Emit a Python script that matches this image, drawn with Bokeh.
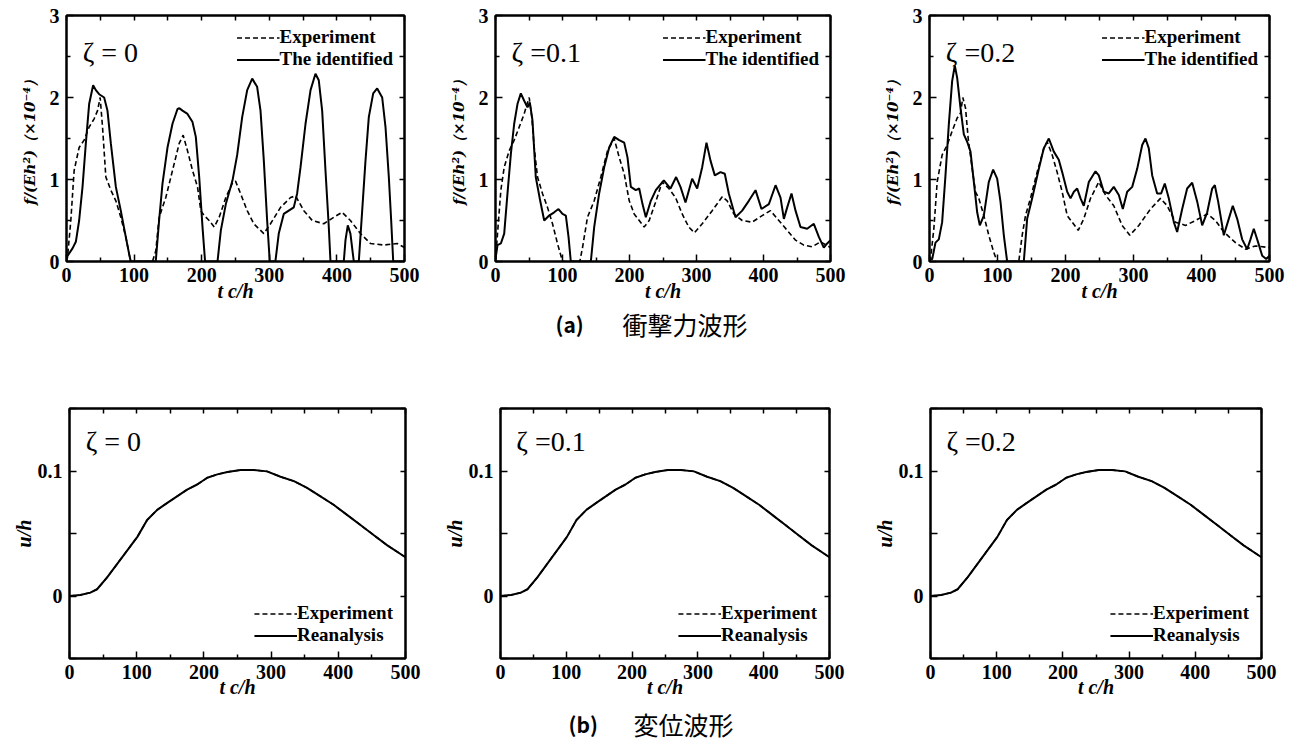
from bokeh.plotting import figure
from bokeh.models import FixedTicker, LinearAxis, Range1d, Label
from bokeh.layouts import column, row
from bokeh.embed import file_html
from bokeh.resources import INLINE

# ---------------- data ----------------
x_major = [0, 100, 200, 300, 400, 500]
x_minor = [50, 150, 250, 350, 450]
x_all = [0, 50, 100, 150, 200, 250, 300, 350, 400, 450, 500]
f_major = [0, 1, 2, 3]
f_minor = [0.5, 1.5, 2.5]
f_all = [0, 0.5, 1, 1.5, 2, 2.5, 3]
u_major = [0, 0.1]
u_minor = [-0.05, 0.05, 0.15]
u_all = [-0.05, 0, 0.05, 0.1, 0.15]

# zeta = 0 : impact force
tA0_id = [0, 8.9, 13.8, 18.7, 23.7, 28.6, 33.5, 39.4, 43.4, 48.3,
          55.7, 60.6, 65.6, 73, 80.3, 87.7, 92.7, 95, 132, 137,
          142, 149.4, 156.8, 164.2, 167, 171.6, 179, 186.4, 191.3, 196.3,
          201.2, 205, 223.4, 228.3, 235.7, 245.6, 252.5, 259.9, 267.3, 274.7,
          282, 287, 291.9, 296.8, 300.7, 309, 314, 321.4, 328.8, 336.2,
          341.2, 346.2, 353.6, 361, 368.3, 373.2, 378.2, 383.1, 388, 390.5,
          410.2, 412.7, 416.1, 420, 425, 432.4, 437.4, 442.3, 447.2, 453.7,
          459.6, 467, 471.9, 476.8, 480.3, 483.3, 500]
fA0_id = [0.05, 0.16, 0.24, 0.5, 0.91, 1.44, 1.92, 2.15, 2.09, 2.04,
          2.0, 1.84, 1.44, 0.91, 0.62, 0.3, 0.09, 0, 0, 0.5,
          0.95, 1.39, 1.68, 1.86, 1.87, 1.84, 1.8, 1.7, 1.52, 1.03,
          0.42, 0, 0, 0.38, 0.7, 0.99, 1.3, 1.76, 2.09, 2.23,
          2.13, 1.84, 1.23, 0.5, 0, 0, 0.34, 0.58, 0.62, 0.66,
          0.83, 1.15, 1.68, 2.09, 2.29, 2.21, 1.84, 1.11, 0.42, 0,
          0, 0.26, 0.44, 0.34, 0, 0, 0.62, 1.23, 1.76, 2.05,
          2.11, 2.0, 1.64, 1.03, 0.5, 0, 0]
tA0_ex = [0, 1.5, 6.4, 11.3, 18.7, 26.1, 33.5, 40.9, 45.9, 49.8,
          53.3, 58.2, 65.6, 73, 80.3, 87.7, 92.7, 95, 127.2, 132.1,
          137.1, 146.9, 156.8, 166.7, 172.6, 179, 186.4, 193.8, 198.7, 203.7,
          211, 218.5, 225.9, 235.7, 245.6, 250, 257.4, 267.3, 277.1, 291.9,
          301.8, 316.6, 331.4, 338.8, 351.1, 363.5, 380.6, 395.4, 407.7, 420,
          434.9, 449.7, 469.4, 489.2, 500]
fA0_ex = [0, 0.05, 0.5, 1.11, 1.39, 1.48, 1.64, 1.74, 1.84, 2.0,
          1.64, 1.03, 0.87, 0.74, 0.54, 0.3, 0.09, 0, 0, 0.13,
          0.54, 0.78, 1.11, 1.44, 1.54, 1.35, 1.11, 0.91, 0.62, 0.56,
          0.5, 0.42, 0.54, 0.78, 0.96, 0.98, 0.83, 0.62, 0.46, 0.34,
          0.46, 0.66, 0.78, 0.8, 0.62, 0.5, 0.46, 0.54, 0.6, 0.5,
          0.34, 0.22, 0.2, 0.22, 0.17]

# zeta = 0.1 : impact force
tB_id = [0, 3, 8, 13, 17.9, 22.9, 27.9, 32.8, 37.8, 42.8,
         47.8, 51.2, 55.2, 60.1, 66.7, 72.7, 80.1, 87.6, 94, 100,
         105, 109, 112.4, 142.3, 147.3, 154.7, 162.2, 169.7, 177.2, 184.6,
         192.1, 197, 202, 209.4, 214.5, 219.4, 224.4, 231.8, 239.3, 251.2,
         261.2, 269.6, 276.1, 283.6, 293.5, 301, 308.5, 314.9, 320.9, 327.3,
         335.8, 342.2, 348.2, 358.2, 368.2, 378.1, 388.1, 397, 408, 418,
         425.4, 430.4, 435.4, 441.8, 447.8, 455.2, 465.2, 475.1, 482.6, 490,
         495.1, 500]
fB_id = [0.03, 0.2, 0.22, 0.34, 0.83, 1.31, 1.68, 1.92, 2.05, 1.96,
         1.88, 1.94, 1.72, 1.03, 0.74, 0.5, 0.56, 0.6, 0.64, 0.58,
         0.56, 0.3, 0, 0, 0.42, 0.83, 1.15, 1.39, 1.52, 1.48,
         1.45, 1.27, 0.91, 0.87, 0.89, 0.7, 0.54, 0.74, 0.87, 0.99,
         0.89, 1.03, 0.91, 0.72, 1.01, 0.89, 1.15, 1.45, 1.23, 1.05,
         1.09, 1.07, 0.83, 0.54, 0.62, 0.74, 0.87, 0.64, 0.7, 0.93,
         0.78, 0.52, 0.66, 0.83, 0.62, 0.42, 0.4, 0.46, 0.3, 0.17,
         0.22, 0.26]
tB_ex = [0, 3, 8, 13, 20.4, 27.9, 35.4, 42.8, 47.8, 50.3,
         54.2, 57.8, 62.7, 70.1, 77.6, 85.1, 92.5, 100, 125.8, 129.9,
         137.3, 147.3, 157.2, 167.2, 177.2, 184.6, 192.1, 199.6, 207, 214.5,
         221.9, 229.4, 238.8, 248.8, 258.7, 268.7, 278.6, 288.5, 297, 308.5,
         323.4, 338.4, 345.8, 355.7, 368.2, 383.1, 398, 410.4, 422.9, 435.4,
         447.8, 460.2, 472.7, 485.1, 500]
fB_ex = [0, 0.34, 0.87, 1.15, 1.35, 1.48, 1.64, 1.8, 1.94, 2.0,
         1.76, 1.39, 1.03, 0.83, 0.66, 0.46, 0.22, 0, 0, 0.17,
         0.54, 0.74, 1.03, 1.35, 1.5, 1.27, 1.07, 0.74, 0.58, 0.5,
         0.42, 0.5, 0.72, 0.97, 0.89, 0.78, 0.58, 0.42, 0.35, 0.46,
         0.62, 0.79, 0.74, 0.58, 0.5, 0.48, 0.56, 0.62, 0.5, 0.38,
         0.26, 0.2, 0.18, 0.24, 0.17]

# zeta = 0.2 : impact force
tC_id = [0, 4, 8.8, 13.7, 18.6, 23.5, 28.4, 33.3, 37.2, 40.7,
         45.6, 50.5, 55.4, 60.3, 65.2, 70.1, 74, 79.9, 87.2, 93.6,
         99.5, 104.4, 109.3, 114.2, 138.7, 143.6, 151, 160.8, 168.1, 175.5,
         182.8, 190.1, 195.1, 202.5, 207.4, 212.3, 217.2, 222.1, 226.9, 234.3,
         244.1, 249, 256.3, 263.7, 271, 278.4, 284.3, 290.7, 298.1, 305.4,
         312.8, 317.6, 322.5, 327.5, 334.8, 340.7, 346, 351.9, 359.3, 364.2,
         371.6, 378.9, 386.3, 393.7, 401, 408.4, 415.7, 419.6, 424.5, 432.8,
         440.1, 446, 452.5, 459.8, 467.2, 472, 476.9, 483.4, 489.3, 495.2,
         500]
fC_id = [0.02, 0.03, 0.23, 0.27, 0.48, 1.05, 1.67, 2.2, 2.39, 2.24,
         1.87, 1.55, 1.46, 1.34, 0.97, 0.6, 0.44, 0.56, 0.97, 1.12,
         1.01, 0.73, 0.32, 0, 0, 0.52, 0.77, 1.13, 1.38, 1.5,
         1.34, 1.24, 1.09, 0.85, 0.77, 0.85, 0.89, 0.77, 0.68, 0.97,
         1.1, 1.05, 0.85, 0.83, 0.91, 0.81, 0.64, 0.85, 0.91, 1.13,
         1.42, 1.5, 1.38, 1.05, 0.83, 0.83, 0.95, 0.77, 0.48, 0.36,
         0.64, 0.89, 0.96, 0.73, 0.44, 0.6, 0.89, 0.93, 0.73, 0.32,
         0.52, 0.68, 0.52, 0.27, 0.15, 0.27, 0.4, 0.23, 0.07, 0.03,
         0.07]
tC_ex = [0, 1.5, 6.4, 11.3, 18.6, 26, 33.3, 40.7, 45.6, 49,
         53, 56.9, 62.8, 67.6, 72.5, 79.9, 87.2, 94.6, 99.5, 131.3,
         136.3, 141.2, 148.5, 158.3, 168.1, 173, 180.4, 187.7, 195.1, 202.5,
         209.8, 218.7, 226.9, 236.8, 244.1, 249, 258.8, 271, 283.3, 294.6,
         307.8, 325, 339.7, 349.5, 361.8, 376.5, 391.2, 408.4, 420.6, 432.8,
         450, 464.7, 479.4, 500]
fC_ex = [0, 0.03, 0.4, 0.97, 1.3, 1.42, 1.59, 1.75, 1.81, 2.0,
         1.87, 1.5, 1.13, 0.85, 0.77, 0.56, 0.32, 0.11, 0, 0,
         0.32, 0.56, 0.77, 1.09, 1.38, 1.46, 1.3, 1.09, 0.85, 0.56,
         0.48, 0.38, 0.52, 0.77, 0.89, 0.97, 0.81, 0.68, 0.44, 0.32,
         0.44, 0.64, 0.77, 0.68, 0.48, 0.44, 0.5, 0.58, 0.5, 0.36,
         0.23, 0.15, 0.19, 0.17]

# displacement (experiment and reanalysis coincide in all three panels)
t_u = [0, 16, 31, 41, 56, 71, 86, 101, 115.5, 130.5,
       145, 160, 175, 190, 205, 220, 235, 254.5, 274, 294,
       314, 334, 353.5, 373.5, 393, 413, 433, 453, 473, 500]
u_rea = [0, 0.0008, 0.0027, 0.0054, 0.0149, 0.0257, 0.0365, 0.0473, 0.0608, 0.0689,
         0.0743, 0.0797, 0.0851, 0.0892, 0.0946, 0.0973, 0.0992, 0.1008, 0.1008, 0.0997,
         0.0954, 0.0919, 0.0865, 0.0797, 0.073, 0.0649, 0.0568, 0.0486, 0.0405, 0.031]
u_exp = [0, 0.0008, 0.0027, 0.0054, 0.0149, 0.0257, 0.0365, 0.0473, 0.0608, 0.0689,
         0.0743, 0.0797, 0.0851, 0.0892, 0.0946, 0.0973, 0.0992, 0.1008, 0.1008, 0.0997,
         0.0954, 0.0919, 0.0865, 0.0797, 0.073, 0.0649, 0.0568, 0.0486, 0.0405, 0.031]

zeta_labels = ["ζ = 0", "ζ =0.1", "ζ =0.2"]

SERIF = "Liberation Serif"


def base_axis(ax):
    ax.axis_line_color = "black"
    ax.axis_line_width = 2
    ax.major_tick_in = 7
    ax.major_tick_out = 0
    ax.minor_tick_in = 4
    ax.minor_tick_out = 0
    ax.major_tick_line_color = "black"
    ax.minor_tick_line_color = "black"
    ax.major_tick_line_width = 1.5
    ax.minor_tick_line_width = 1.5


def label_axis(ax, label_font, label_size):
    base_axis(ax)
    ax.major_label_text_font = SERIF
    ax.major_label_text_font_style = "bold"
    ax.major_label_text_font_size = "20px"
    ax.major_label_text_color = "black"
    ax.axis_label_text_font = label_font
    ax.axis_label_text_font_style = "bold italic"
    ax.axis_label_text_font_size = label_size
    ax.axis_label_text_color = "black"


def tick_only_axis(positions, length):
    # ticks on the opposite frame edge, no labels at all
    ax = LinearAxis(ticker=FixedTicker(ticks=[], minor_ticks=positions))
    base_axis(ax)
    ax.minor_tick_in = length
    ax.major_label_standoff = 0
    return ax


def panel(w, h, bl, br, bt, bb, yr, ymaj, ymin, yall, ylabel, lab_font, lab_size,
          ylab_standoff, ymin_len, xlab_standoff):
    p = figure(width=w, height=h, x_range=Range1d(0, 500), y_range=Range1d(*yr),
               output_backend="svg", toolbar_location=None,
               min_border_left=bl, min_border_right=br,
               min_border_top=bt, min_border_bottom=bb,
               x_axis_label="t c/h", y_axis_label=ylabel)
    p.xgrid.visible = False
    p.ygrid.visible = False
    p.outline_line_color = "black"
    p.outline_line_width = 2
    p.xaxis.ticker = FixedTicker(ticks=x_major, minor_ticks=x_minor)
    p.yaxis.ticker = FixedTicker(ticks=ymaj, minor_ticks=ymin)
    for ax in p.xaxis:
        label_axis(ax, SERIF, "20px")
        ax.major_label_standoff = 6
        ax.axis_label_standoff = xlab_standoff
    for ax in p.yaxis:
        label_axis(ax, lab_font, lab_size)
        ax.major_label_standoff = 7
        ax.axis_label_standoff = ylab_standoff
        ax.minor_tick_in = ymin_len
    p.add_layout(tick_only_axis(yall, 5), "right")
    p.add_layout(tick_only_axis(x_all, 5), "above")
    return p


def style_legend(p, loc, margin, padding):
    lg = p.legend[0]
    lg.location = loc
    lg.margin = margin
    lg.padding = padding
    lg.spacing = 0
    lg.glyph_width = 43
    lg.glyph_height = 21
    lg.label_height = 21
    lg.label_standoff = 0
    lg.label_text_font = SERIF
    lg.label_text_font_style = "bold"
    lg.label_text_font_size = "19px"
    lg.label_text_color = "black"
    lg.border_line_color = None
    lg.background_fill_alpha = 0


top_geom = [(440, 66, 36), (430, 55, 40), (428, 59, 29)]
bot_geom = [(440, 69, 35), (430, 54, 41), (428, 56, 37)]
force_sets = [(tA0_ex, fA0_ex, tA0_id, fA0_id),
              (tB_ex, fB_ex, tB_id, fB_id),
              (tC_ex, fC_ex, tC_id, fC_id)]

top_figs = []
for (w, bl, br), (te, fe, ti, fi), zl in zip(top_geom, force_sets, zeta_labels):
    p = panel(w, 304, bl, br, 15, 43, (0, 3), f_major, f_minor, f_all,
              "f/(Eh²)（×10⁻⁴）", "DejaVu Serif", "15px", 8, 4, -5)
    p.line(te, fe, line_color="black", line_width=1.6, line_dash="5 3",
           legend_label="Experiment")
    p.line(ti, fi, line_color="black", line_width=2, legend_label="The identified")
    style_legend(p, "top_right", 11, 4)
    p.add_layout(Label(x=24, y=2.55, text=zl, text_font=SERIF,
                       text_font_size="28px", text_baseline="alphabetic",
                       text_color="black"))
    top_figs.append(p)

bot_figs = []
for (w, bl, br), zl in zip(bot_geom, zeta_labels):
    p = panel(w, 362, bl, br, 66, 46, (-0.05, 0.15), u_major, u_minor, u_all,
              "u/h", SERIF, "20px", 0, 7, -6)
    p.line(t_u, u_exp, line_color="black", line_width=1.6, line_dash="5 3",
           legend_label="Experiment")
    p.line(t_u, u_rea, line_color="black", line_width=2, legend_label="Reanalysis")
    style_legend(p, "bottom_right", 12, 4)
    p.add_layout(Label(x=24, y=0.124, text=zl, text_font=SERIF,
                       text_font_size="28px", text_baseline="alphabetic",
                       text_color="black"))
    bot_figs.append(p)


def caption(h, y, x1, t1, x2, t2):
    c = figure(width=1298, height=h, x_range=Range1d(0, 1298), y_range=Range1d(0, h),
               output_backend="svg", toolbar_location=None, min_border=0,
               x_axis_location=None, y_axis_location=None)
    c.xgrid.visible = False
    c.ygrid.visible = False
    c.outline_line_color = None
    c.add_layout(Label(x=x1, y=y, text=t1, text_font="Noto Sans CJK JP",
                       text_font_style="bold", text_font_size="21px",
                       text_baseline="middle", text_color="black"))
    c.add_layout(Label(x=x2, y=y, text=t2, text_font="Noto Sans CJK JP",
                       text_font_size="25px", text_baseline="middle",
                       text_color="black"))
    return c


capA = caption(38, 19, 555, "(a)", 622, "衝撃力波形")
capB = caption(42, 23, 568, "(b)", 633, "変位波形")

layout = column(row(*top_figs), capA, row(*bot_figs), capB)

with open("out.html", "w") as fh:
    fh.write(file_html(layout, INLINE))
